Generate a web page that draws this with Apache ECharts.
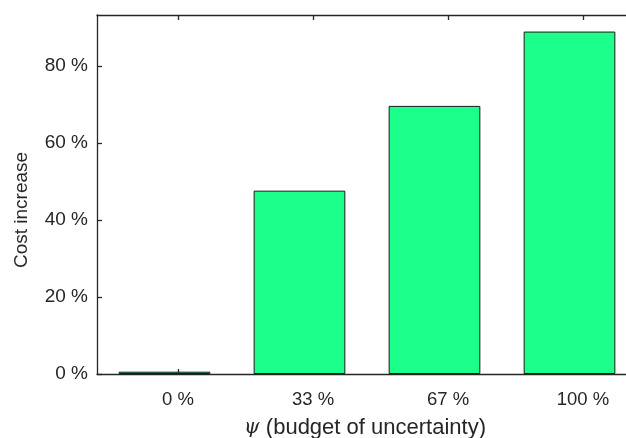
<!DOCTYPE html>
<html>
<head>
<meta charset="utf-8">
<script src="https://cdn.jsdelivr.net/npm/echarts@6/dist/echarts.min.js"></script>
<style>html,body{margin:0;padding:0;background:#fff;overflow:hidden}#c{width:664px;height:438px}</style>
</head>
<body>
<div id="c"></div>
<script>
var categories = ['0 %', '33 %', '67 %', '100 %'];
var costIncrease = [0.6, 47.6, 69.6, 88.9];
var yTicks = [0, 20, 40, 60, 80];

var positions = categories.map(function (c, i) { return i + 1; });
var barData = positions.map(function (p, i) { return [p, costIncrease[i]]; });
var dummyData = positions.map(function (p) { return [p, '-']; });

var ink = '#262626';
var font = 'Liberation Sans, Arial, Helvetica, sans-serif';

var chart = echarts.init(document.getElementById('c'), null, {renderer: 'canvas'});
function xAx(pos, showLabel) {
  return {
    type: 'value', position: pos, min: 0.4, max: 4.6,
    axisLine: {show: true, lineStyle: {color: ink, width: 1.3}},
    axisTick: {show: true, inside: true, length: 5, customValues: positions, lineStyle: {color: ink, width: 1.3}},
    axisLabel: {show: showLabel, customValues: positions, margin: 16, color: ink, fontSize: 18.5, fontFamily: font,
      formatter: function (v) { return categories[Math.round(v) - 1] || ''; }},
    splitLine: {show: false}
  };
}
chart.setOption({
  animation: false,
  backgroundColor: '#fff',
  grid: {left: 97, top: 15, right: 0, bottom: 64, containLabel: false},
  xAxis: [xAx('bottom', true), xAx('top', false)],
  yAxis: {
    type: 'value', min: 0, max: 93.2,
    axisLine: {show: true, lineStyle: {color: ink, width: 1.3}},
    axisTick: {show: true, inside: true, length: 5, customValues: yTicks, lineStyle: {color: ink, width: 1.3}},
    axisLabel: {customValues: yTicks, margin: 9, color: ink, fontSize: 19, fontFamily: font,
      formatter: function (v) { return v + ' %'; }},
    splitLine: {show: false}
  },
  graphic: [{
    type: 'text', x: 365, y: 428,
    style: {
      text: '{psi|ψ} (budget of uncertainty)',
      align: 'center', verticalAlign: 'middle',
      fill: ink, font: '22px ' + font,
      rich: {psi: {fontFamily: 'DejaVu Serif, Liberation Serif, serif', fontStyle: 'italic', fontSize: 20, fill: ink}}
    }
  }, {
    type: 'text', x: 22, y: 210, rotation: Math.PI / 2,
    style: {
      text: 'Cost increase', align: 'center', verticalAlign: 'middle',
      fill: ink, font: '19px ' + font
    }
  }],
  series: [{
    type: 'bar', xAxisIndex: 0, data: barData, barWidth: 91.7, barGap: '0%',
    itemStyle: {color: '#1cff8a', borderColor: '#1a1a1a', borderWidth: 1}
  }, {
    type: 'bar', xAxisIndex: 0, data: dummyData, barWidth: 27, barGap: '0%',
    itemStyle: {color: 'transparent'}
  }]
});
</script>
</body>
</html>
